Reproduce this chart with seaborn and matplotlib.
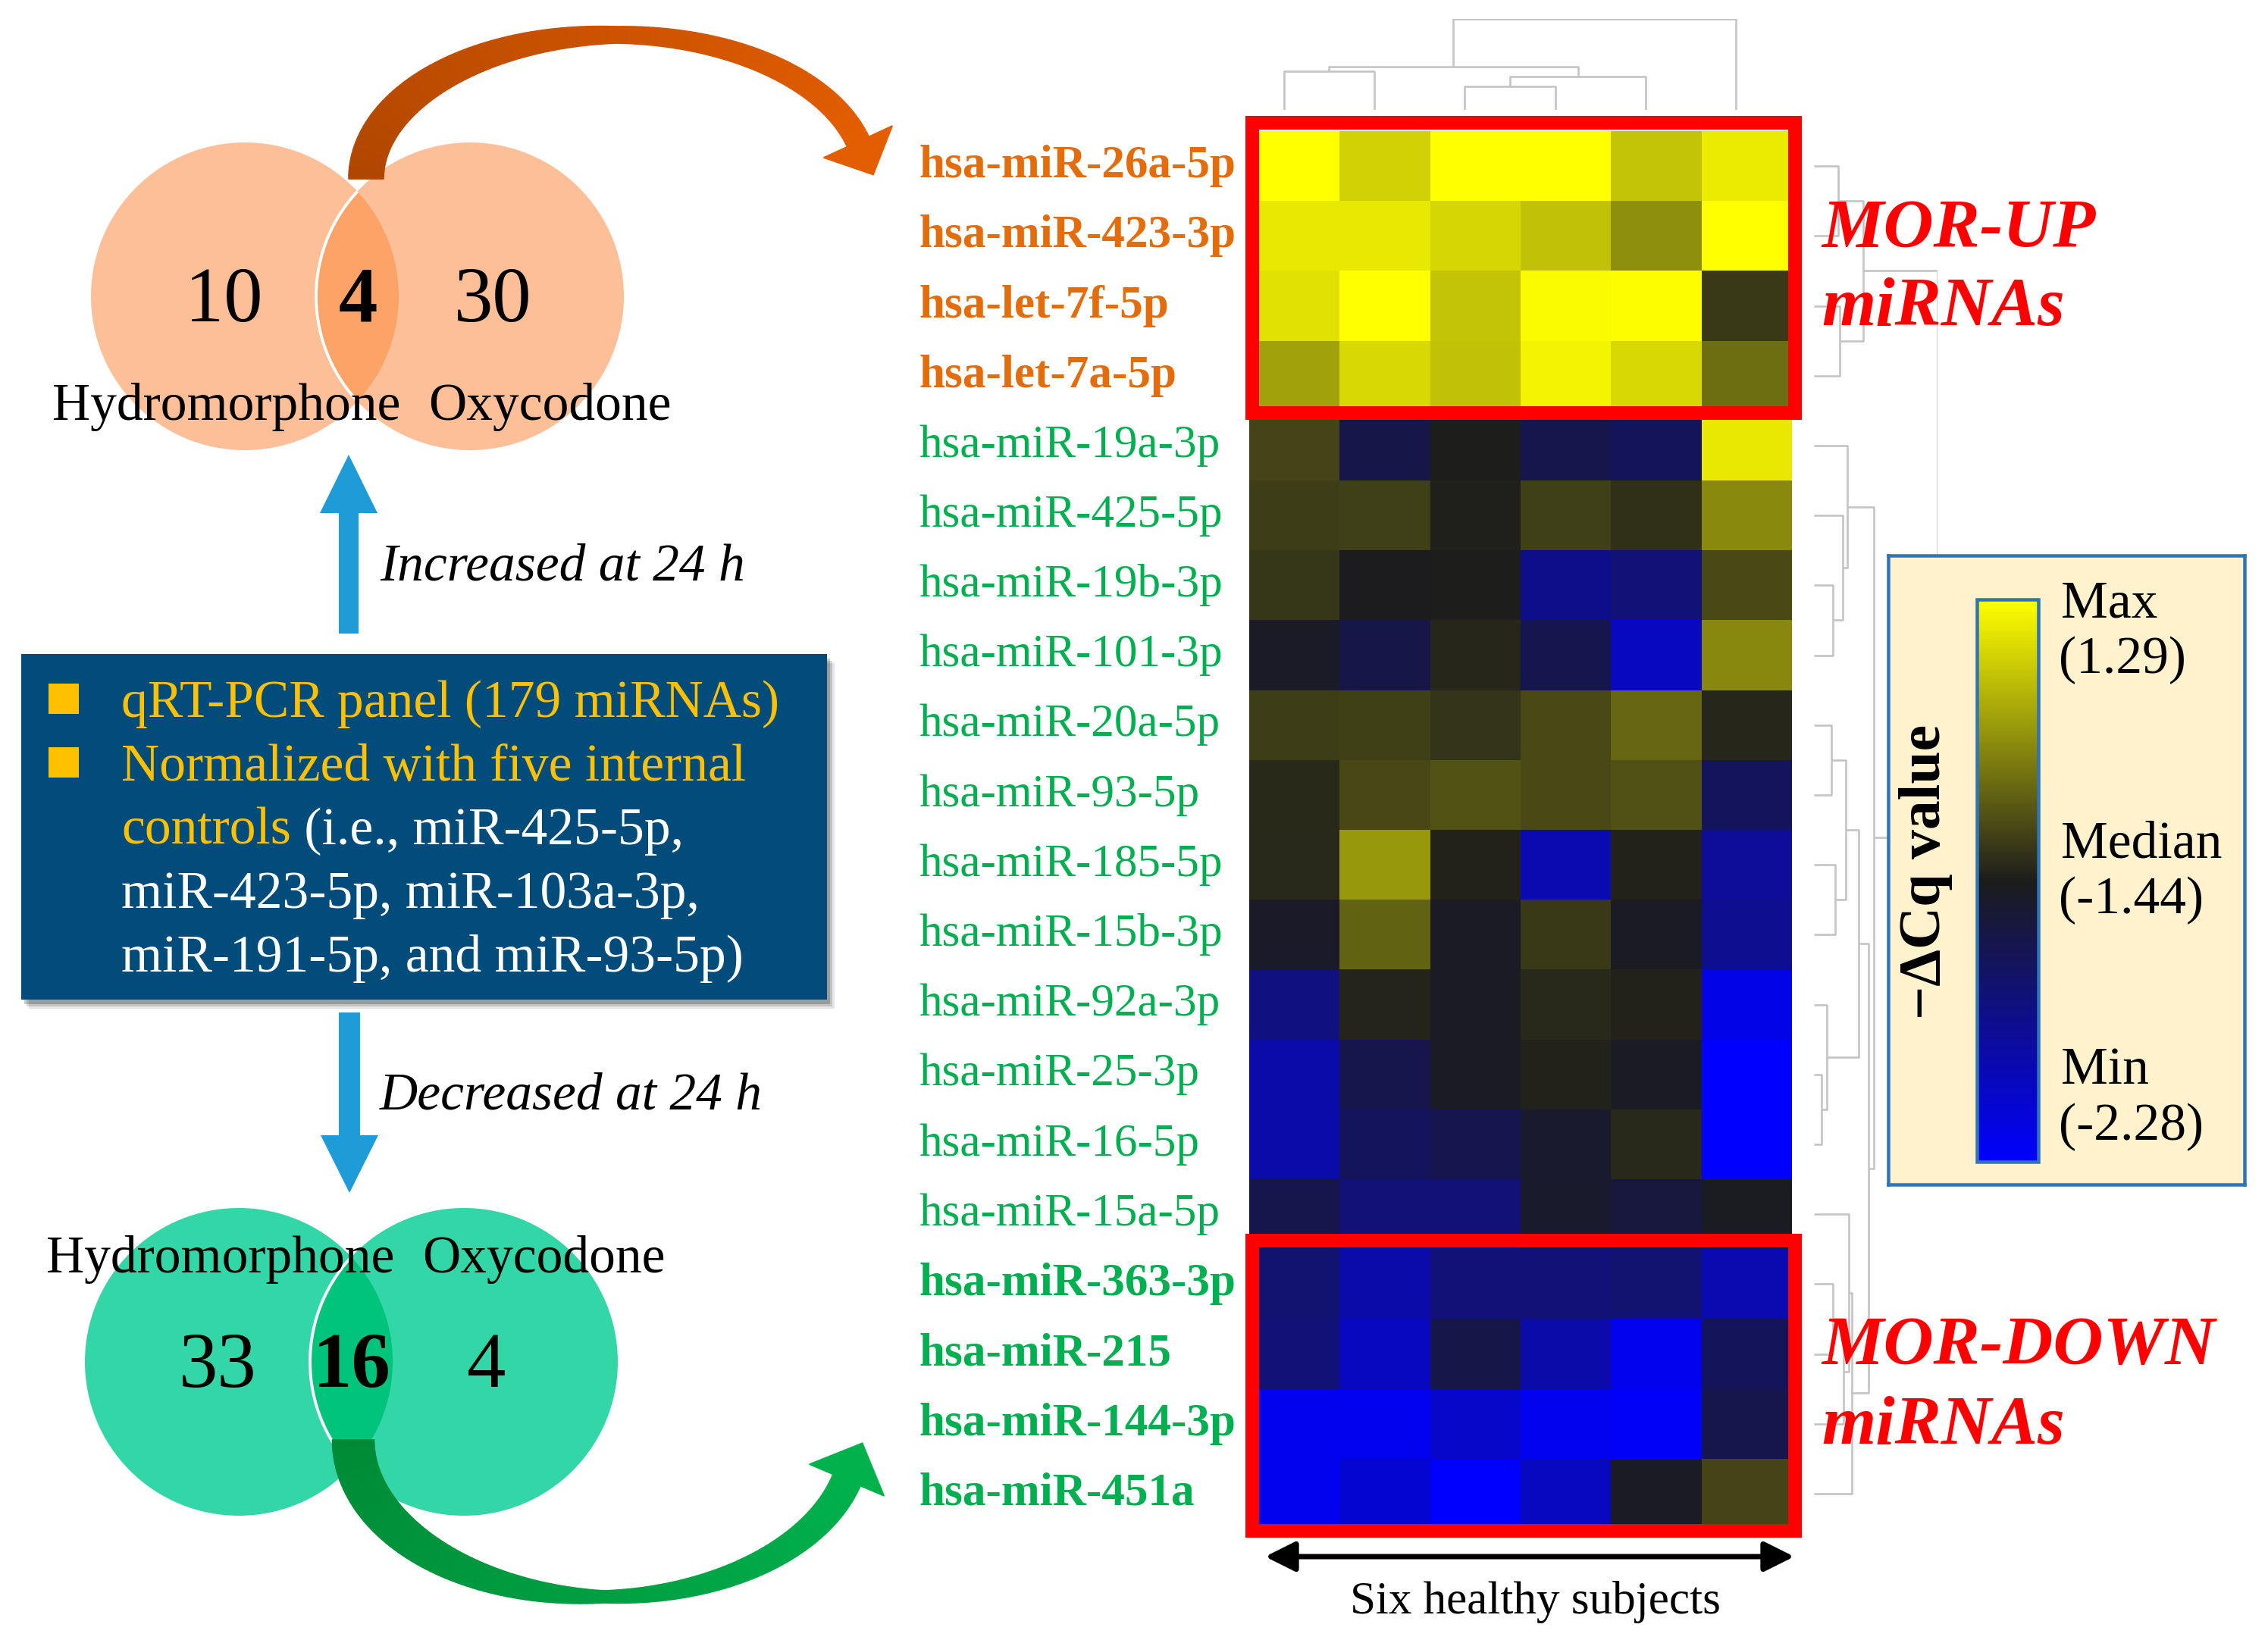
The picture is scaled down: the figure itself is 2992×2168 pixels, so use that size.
import numpy as np
import pandas as pd
import matplotlib
matplotlib.use("Agg")
import matplotlib.pyplot as plt
import seaborn as sns
from matplotlib.colors import LinearSegmentedColormap, TwoSlopeNorm, to_rgb
from matplotlib.cm import ScalarMappable
from matplotlib.collections import PolyCollection
from matplotlib.patches import Circle, Rectangle, FancyArrow, Polygon

# ---- data ---------------------------------------------------------------
mirnas = ["hsa-miR-26a-5p", "hsa-miR-423-3p", "hsa-let-7f-5p", "hsa-let-7a-5p",
          "hsa-miR-19a-3p", "hsa-miR-425-5p", "hsa-miR-19b-3p", "hsa-miR-101-3p",
          "hsa-miR-20a-5p", "hsa-miR-93-5p", "hsa-miR-185-5p", "hsa-miR-15b-3p",
          "hsa-miR-92a-3p", "hsa-miR-25-3p", "hsa-miR-16-5p", "hsa-miR-15a-5p",
          "hsa-miR-363-3p", "hsa-miR-215", "hsa-miR-144-3p", "hsa-miR-451a"]
subjects = ["S1", "S2", "S3", "S4", "S5", "S6"]
neg_dcq = [
    [1.29, 0.72, 1.29, 1.29, 0.58, 1.04],
    [1.01, 1.01, 0.79, 0.53, -0.07, 1.29],
    [0.92, 1.29, 0.58, 1.21, 1.25, -1.08],
    [0.15, 0.82, 0.53, 1.16, 0.82, -0.48],
    [-0.95, -1.61, -1.43, -1.62, -1.67, 1.01],
    [-1.05, -1.03, -1.40, -1.03, -1.20, -0.12],
    [-1.14, -1.45, -1.42, -1.85, -1.78, -0.89],
    [-1.48, -1.61, -1.32, -1.63, -2.05, -0.14],
    [-1.05, -1.01, -1.15, -0.89, -0.55, -1.32],
    [-1.27, -0.91, -0.79, -0.89, -0.81, -1.68],
    [-1.30, 0.05, -1.37, -1.99, -1.37, -1.90],
    [-1.49, -0.60, -1.47, -1.08, -1.47, -1.87],
    [-1.81, -1.34, -1.47, -1.30, -1.37, -2.19],
    [-1.96, -1.62, -1.47, -1.37, -1.47, -2.28],
    [-1.96, -1.68, -1.63, -1.51, -1.30, -2.28],
    [-1.62, -1.78, -1.78, -1.50, -1.57, -1.46],
    [-1.75, -1.96, -1.78, -1.78, -1.75, -1.99],
    [-1.78, -2.05, -1.61, -1.96, -2.22, -1.67],
    [-2.22, -2.22, -2.08, -2.22, -2.25, -1.62],
    [-2.22, -2.11, -2.28, -2.05, -1.47, -0.96],
]
groups = ["up"] * 4 + ["other"] * 12 + ["down"] * 4

# dendrogram merges: (cluster a, cluster b, height); new ids continue after leaves
row_links = [(0, 1, 32), (2, 3, 34), (20, 21, 65), (6, 7, 25), (5, 23, 38),
             (4, 24, 44), (8, 9, 23), (10, 11, 28), (26, 27, 42), (13, 14, 10),
             (12, 29, 17), (28, 30, 59), (16, 17, 25), (32, 18, 39), (15, 33, 46),
             (34, 19, 50), (31, 35, 72), (25, 36, 79), (22, 37, 163)]
col_links = [(0, 1, 51), (2, 3, 31), (7, 4, 44), (6, 8, 57), (9, 5, 120)]

cq_min, cq_median, cq_max = -2.28, -1.44, 1.29
venn_up = [10, 4, 30]
venn_down = [33, 16, 4]
drugs = ["Hydromorphone", "Oxycodone"]
panel_lines = [
    [("qRT-PCR panel (179 miRNAs)", "#ffc000")],
    [("Normalized with five internal", "#ffc000")],
    [("controls", "#ffc000"), (" (i.e., miR-425-5p,", "white")],
    [("miR-423-5p, miR-103a-3p,", "white")],
    [("miR-191-5p, and miR-93-5p)", "white")],
]

# ---- layout (pixels) ----------------------------------------------------
W, H, DPI = 2992, 2168, 200
HM_L, HM_R, HM_T, HM_B = 1648, 2364, 173, 2017
GRAY = "#c4c4c4"
ORANGE, GREEN, RED = "#e46c0a", "#00b050", "#ff0000"


def frac(x0, y0, x1, y1):
    return [x0 / W, 1 - y1 / H, (x1 - x0) / W, (y1 - y0) / H]


def pt(px):
    return px * 72 / DPI


def draw_dendro(ax, links, n, horizontal):
    pos = {i: (i + 0.5, 0.0) for i in range(n)}
    for k, (a, b, h) in enumerate(links):
        (pa, ha), (pb, hb) = pos[a], pos[b]
        xs, ys = [pa, pa, pb, pb], [ha, h, h, hb]
        if horizontal:
            xs, ys = ys, xs
        ax.plot(xs, ys, color=GRAY, lw=pt(2.6), solid_capstyle="butt")
        pos[n + k] = ((pa + pb) / 2, h)


def venn(ax, cx, cy, r, d, fill, lens, nums):
    left = Circle((cx - d / 2, cy), r, fc=fill, ec="none", zorder=2)
    right = Circle((cx + d / 2, cy), r, fc=fill, ec="none", zorder=2)
    ax.add_patch(left)
    ax.add_patch(right)
    mid = Circle((cx + d / 2, cy), r, fc=lens, ec="white", lw=1.4, zorder=3)
    ax.add_patch(mid)
    mid.set_clip_path(left)
    xs = [cx - d / 2 - 28, cx + 1, cx + d / 2 + 30]
    for x, v, w in zip(xs, nums, ["normal", "bold", "normal"]):
        ax.text(x, cy + 33, str(v), fontsize=37, ha="center", va="baseline",
                fontweight=w, zorder=5)


def venn_labels(ax, cx, y):
    ax.text(cx + 57, y, drugs[0], fontsize=25, ha="right", va="baseline", zorder=6)
    ax.text(cx + 94, y, drugs[1], fontsize=25, ha="left", va="baseline", zorder=6)


def curved_arrow(ax, x0, y0, x1, depth, head_y, widths, colors, head_w, head_len, up):
    sgn = -1 if up else 1
    cx, a = (x0 + x1) / 2, (x1 - x0) / 2
    t_end = np.pi - np.arcsin(abs(head_y - y0) / depth)
    t = np.linspace(0, t_end, 120)
    px = cx - a * np.cos(t)
    py = y0 + sgn * depth * np.sin(t)
    tx, ty = a * np.sin(t), sgn * depth * np.cos(t)
    nrm = np.hypot(tx, ty)
    tx, ty = tx / nrm, ty / nrm
    nx, ny = -ty, tx
    w0, wm, w1 = widths
    c = np.cos(t)
    w = wm + (w0 - wm) * np.clip(c, 0, None) + (w1 - wm) * np.clip(-c, 0, None)
    lx, ly = px + nx * w / 2, py + ny * w / 2
    rx, ry = px - nx * w / 2, py - ny * w / 2
    quads = [[(lx[i], ly[i]), (lx[i + 1], ly[i + 1]), (rx[i + 1], ry[i + 1]), (rx[i], ry[i])]
             for i in range(len(t) - 1)]
    c0, c1 = np.array(to_rgb(colors[0])), np.array(to_rgb(colors[1]))
    cols = [c0 + (c1 - c0) * s for s in np.linspace(0, 1, len(quads))]
    ax.add_collection(PolyCollection(quads, facecolors=cols, edgecolors=cols,
                                     linewidths=0.6, zorder=7))
    bx, by = px[-1], py[-1]
    head = [(bx + nx[-1] * head_w / 2, by + ny[-1] * head_w / 2),
            (bx + tx[-1] * head_len, by + ty[-1] * head_len),
            (bx - nx[-1] * head_w / 2, by - ny[-1] * head_w / 2)]
    ax.add_patch(Polygon(head, closed=True, fc=colors[1], ec=colors[1], lw=0.6, zorder=7))


# ---- figure ---------------------------------------------------------------
sns.set_style("white")
plt.rcParams["font.family"] = ["Liberation Serif", "DejaVu Serif"]
plt.rcParams["text.color"] = "black"

fig = plt.figure(figsize=(W / DPI, H / DPI), dpi=DPI, facecolor="white")
base = fig.add_axes([0, 0, 1, 1], zorder=0)
base.set_xlim(0, W)
base.set_ylim(H, 0)
base.axis("off")

# left: Venn diagrams, arrows, description panel
venn(base, 471.5, 391, 203, 297, "#fdbf98", "#fca368", venn_up)
venn_labels(base, 471.5, 554)
venn(base, 463.5, 1797, 203, 297, "#33d6a6", "#00c47b", venn_down)
venn_labels(base, 463.5, 1679)

curved_arrow(base, 483, 236, 1143, 190, 187, (46, 22, 32), ("#b04600", "#e35e00"),
             100, 48, up=True)
curved_arrow(base, 466, 1900, 1128, 207, 1953, (55, 16, 40), ("#008a36", "#00b14c"),
             107, 53, up=False)

blue = "#1e9cd7"
base.add_patch(FancyArrow(460, 836, 0, -236, width=26, head_width=76, head_length=77,
                          length_includes_head=True, color=blue, lw=0, zorder=4))
base.add_patch(FancyArrow(461, 1336, 0, 238, width=28, head_width=76, head_length=76,
                          length_includes_head=True, color=blue, lw=0, zorder=4))
base.text(501, 766, "Increased at 24 h", fontsize=25, style="italic", va="baseline")
base.text(501, 1463, "Decreased at 24 h", fontsize=25, style="italic", va="baseline")

for off, al in [(10, 0.10), (7, 0.15), (4, 0.2)]:
    base.add_patch(Rectangle((28 + off, 863 + off + 2), 1063, 456, fc="black",
                             alpha=al, ec="none", zorder=1))
base.add_patch(Rectangle((28, 863), 1063, 456, fc="#014c7b", ec="none", zorder=2))
for i, line in enumerate(panel_lines):
    y = 946 + 84 * i
    if i < 2:
        base.add_patch(Rectangle((64, y - 44), 40, 40, fc="#ffc000", ec="none", zorder=3))
    s, col = line[0]
    t = base.text(160, y, s, fontsize=25, color=col, va="baseline", zorder=3)
    for s, col in line[1:]:
        t = base.annotate(s, xy=(1, y), xycoords=(t, "data"), fontsize=25, color=col,
                          ha="left", va="baseline", zorder=3)

# heatmap
df = pd.DataFrame(neg_dcq, index=mirnas, columns=subjects)
cmap = LinearSegmentedColormap.from_list("byk", ["#0000ff", "#1c1c1c", "#ffff00"])
norm = TwoSlopeNorm(vmin=cq_min, vcenter=cq_median, vmax=cq_max)

ax_hm = fig.add_axes(frac(HM_L, HM_T, HM_R, HM_B), zorder=2)
sns.heatmap(df, ax=ax_hm, cmap=cmap, norm=norm, cbar=False,
            xticklabels=False, yticklabels=True, linewidths=0)
ax_hm.set_xlabel("")
ax_hm.set_ylabel("")
ax_hm.tick_params(axis="y", length=0, pad=pt(436), labelsize=22)
label_style = {"up": (ORANGE, "bold"), "other": (GREEN, "normal"), "down": (GREEN, "bold")}
for lab, g in zip(ax_hm.get_yticklabels(), groups):
    lab.set_rotation(0)
    lab.set_color(label_style[g][0])
    lab.set_fontweight(label_style[g][1])
    lab.set_horizontalalignment("left")

n_rows, n_cols = df.shape
for g, words in [("up", "MOR-UP"), ("down", "MOR-DOWN")]:
    idx = [i for i, v in enumerate(groups) if v == g]
    start, n = idx[0], len(idx)
    ax_hm.add_patch(Rectangle((0.03, start - 0.12), n_cols, n + 0.15, fill=False,
                              ec=RED, lw=pt(18), clip_on=False, zorder=10,
                              joinstyle="miter"))
    ax_hm.text(n_cols + 0.33, start + 1.65, words, color=RED, fontsize=33,
               style="italic", fontweight="bold", va="baseline")
    ax_hm.text(n_cols + 0.33, start + 2.78, "miRNAs", color=RED, fontsize=33,
               style="italic", fontweight="bold", va="baseline")

# dendrograms
ax_rd = fig.add_axes(frac(2393, HM_T, 2556, HM_B), zorder=1)
draw_dendro(ax_rd, row_links, n_rows, horizontal=True)
ax_rd.set_xlim(0, row_links[-1][2])
ax_rd.set_ylim(n_rows, 0)
ax_rd.axis("off")

ax_cd = fig.add_axes(frac(HM_L - 14, 25, HM_R - 14, 145), zorder=1)
draw_dendro(ax_cd, col_links, n_cols, horizontal=False)
ax_cd.set_xlim(0, n_cols)
ax_cd.set_ylim(0, col_links[-1][2])
ax_cd.axis("off")

base.annotate("", xy=(HM_L + 21, 2054), xytext=(HM_R + 3, 2054),
              arrowprops=dict(arrowstyle="<|-|>", color="black", lw=pt(7),
                              mutation_scale=30, shrinkA=0, shrinkB=0))
base.text((HM_L + HM_R) / 2 + 20, 2129, "Six healthy subjects", fontsize=22,
          ha="center", va="baseline")

# colour key
leg = fig.add_axes(frac(2491, 733, 2961, 1563), zorder=3)
leg.set_facecolor("#fff2cc")
leg.set_xlim(2491, 2961)
leg.set_ylim(1563, 733)
leg.set_xticks([])
leg.set_yticks([])
for s in leg.spines.values():
    s.set_edgecolor("#2e75b6")
    s.set_linewidth(pt(4.5))
leg.text(2540, 1150, "\u2212\u0394Cq value", rotation=90, fontsize=28, fontweight="bold",
         ha="center", va="center")
for name, v, y in [("Max", cq_max, 814), ("Median", cq_median, 1131), ("Min", cq_min, 1430)]:
    leg.text(2719, y, name, fontsize=25, va="baseline")
    leg.text(2716, y + 74, f"({v:.2f})", fontsize=25, va="baseline")

cax = fig.add_axes(frac(2608, 791, 2689, 1533), zorder=4)
cb = fig.colorbar(ScalarMappable(norm=norm, cmap=cmap), cax=cax)
cb.set_ticks([])
cb.outline.set_edgecolor("#2e75b6")
cb.outline.set_linewidth(pt(4.5))

fig.savefig("out.png", dpi=DPI, facecolor="white")
